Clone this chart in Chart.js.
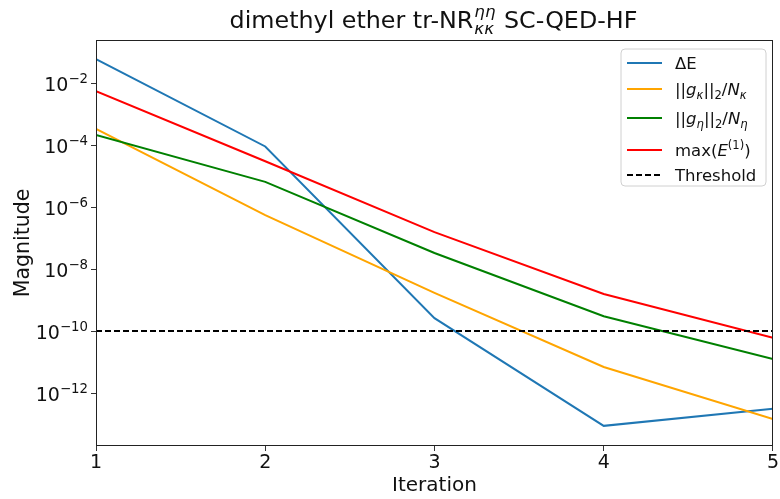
<!DOCTYPE html>
<html>
<head>
<meta charset="utf-8">
<script src="https://cdn.jsdelivr.net/npm/chart.js@4.4.0/dist/chart.umd.min.js"></script>
<style>
html,body{margin:0;padding:0;background:#fff;}
#wrap{width:780px;height:499px;}
</style>
</head>
<body>
<div id="wrap"><canvas id="c" width="780" height="499"></canvas></div>
<script>
// ---- data ----
const iterations = [1, 2, 3, 4, 5];
const deltaE     = [5.9e-2, 9.0e-5, 2.6e-10, 8.7e-14, 3.1e-13];
const gradKappa  = [3.3e-4, 5.5e-7, 1.7e-9, 6.9e-12, 1.45e-13];
const gradEta    = [2.1e-4, 6.5e-6, 3.3e-8, 3.0e-10, 1.25e-11];
const maxE1      = [5.5e-3, 3.0e-5, 1.55e-7, 1.56e-9, 6.1e-11];
const threshold  = 1e-10;
const yTickExponents = [-12, -10, -8, -6, -4, -2];
const xTicks = [1, 2, 3, 4, 5];

const FONT = '"DejaVu Sans", "Liberation Sans", sans-serif';
const TXT = '#111';

function pts(arr){ return iterations.map((x,i)=>({x:x, y:arr[i]})); }

// ---- rich text helper ----
function fontFor(seg, size){
  const sz = (seg.s && seg.s!=='b') || seg.stack ? size*0.7 : size;
  return (seg.it?'italic ':'') + sz.toFixed(2) + 'px ' + FONT;
}
function segWidth(ctx, seg, size){
  if (seg.stack){
    ctx.font = fontFor({it:true, stack:true}, size);
    return Math.max(ctx.measureText(seg.stack[0]).width, ctx.measureText(seg.stack[1]).width) + 0.08*size;
  }
  ctx.font = fontFor(seg, size);
  return ctx.measureText(seg.t).width;
}
function drawRich(ctx, segs, x, y, size, align){
  let total = 0;
  segs.forEach(s=>{ total += segWidth(ctx, s, size); });
  let cx = align==='center' ? x - total/2 : align==='right' ? x - total : x;
  ctx.save();
  ctx.textAlign = 'left';
  ctx.textBaseline = 'alphabetic';
  ctx.fillStyle = TXT;
  segs.forEach(s=>{
    const w = segWidth(ctx, s, size);
    if (s.stack){
      ctx.font = fontFor({it:true, stack:true}, size);
      ctx.fillText(s.stack[0], cx + 0.04*size, y - 0.45*size);
      ctx.fillText(s.stack[1], cx + 0.04*size, y + 0.25*size);
    } else {
      ctx.font = fontFor(s, size);
      const dy = s.s==='sup' ? -0.42*size : s.s==='sub' ? 0.22*size : 0;
      ctx.fillText(s.t, cx, y + dy);
    }
    cx += w;
  });
  ctx.restore();
}

// ---- legend definition ----
const legendItems = [
  {color:'#1f77b4', dash:[], y:63, segs:[{t:'ΔE'}]},
  {color:'#FFA500', dash:[], y:89, segs:[{t:'||'},{t:'g',it:true},{t:'κ',it:true,s:'sub'},{t:'||'},{t:'2',s:'sub'},{t:'/'},{t:'N',it:true},{t:'κ',it:true,s:'sub'}]},
  {color:'#008000', dash:[], y:118, segs:[{t:'||'},{t:'g',it:true},{t:'η',it:true,s:'sub'},{t:'||'},{t:'2',s:'sub'},{t:'/'},{t:'N',it:true},{t:'η',it:true,s:'sub'}]},
  {color:'#FF0000', dash:[], y:150, segs:[{t:'max('},{t:'E',it:true},{t:'(1)',s:'sup'},{t:')'}]},
  {color:'#000000', dash:[6,3], y:175, segs:[{t:'Threshold'}]}
];

const decor = {
  id:'decor',
  afterDraw(chart){
    const ctx = chart.ctx, a = chart.chartArea;
    const ys = chart.scales.y;
    // frame
    ctx.save();
    ctx.strokeStyle = '#222';
    ctx.lineWidth = 1;
    ctx.strokeRect(Math.round(a.left)+0.5, Math.round(a.top)+0.5, Math.round(a.right-a.left)-1, Math.round(a.bottom-a.top)-1);
    ctx.restore();
    // y tick labels
    ys.ticks.forEach(t=>{
      const py = ys.getPixelForValue(t.value);
      const e = Math.round(Math.log10(t.value));
      drawRich(ctx, [{t:'10'},{t:'\u2212'+Math.abs(e), s:'sup'}], 88, py+8, 19, 'right');
    });
    // title
    drawRich(ctx, [{t:'dimethyl ether tr-NR'},{stack:['ηη','κκ']},{t:' SC-QED-HF'}], 433.5, 28, 23.8, 'center');
    // axis titles
    drawRich(ctx, [{t:'Iteration'}], (a.left+a.right)/2, 491, 20, 'center');
    ctx.save();
    ctx.translate(29, (a.top+a.bottom)/2);
    ctx.rotate(-Math.PI/2);
    drawRich(ctx, [{t:'Magnitude'}], 0, 0, 20.5, 'center');
    ctx.restore();
    // legend
    ctx.save();
    const bx=621, by=49, bw=145, bh=137, r=4;
    ctx.beginPath();
    ctx.moveTo(bx+r,by); ctx.lineTo(bx+bw-r,by); ctx.arcTo(bx+bw,by,bx+bw,by+r,r);
    ctx.lineTo(bx+bw,by+bh-r); ctx.arcTo(bx+bw,by+bh,bx+bw-r,by+bh,r);
    ctx.lineTo(bx+r,by+bh); ctx.arcTo(bx,by+bh,bx,by+bh-r,r);
    ctx.lineTo(bx,by+r); ctx.arcTo(bx,by,bx+r,by,r); ctx.closePath();
    ctx.fillStyle='rgba(255,255,255,0.8)'; ctx.fill();
    ctx.strokeStyle='#d0d0d0'; ctx.lineWidth=1; ctx.stroke();
    legendItems.forEach(it=>{
      ctx.beginPath();
      ctx.setLineDash(it.dash);
      ctx.strokeStyle = it.color; ctx.lineWidth = 2;
      ctx.moveTo(627, it.y); ctx.lineTo(662, it.y); ctx.stroke();
      ctx.setLineDash([]);
      drawRich(ctx, it.segs, 675, it.y+6, 16.5, 'left');
    });
    ctx.restore();
  }
};

const mk = (label, data, color, order, dash) => ({
  label, data, borderColor: color, backgroundColor: color, borderWidth: 2,
  pointRadius: 0, tension: 0, fill: false, order, borderDash: dash || []
});

new Chart(document.getElementById('c'), {
  type: 'line',
  data: {
    datasets: [
      mk('ΔE', pts(deltaE), '#1f77b4', 5),
      mk('gk', pts(gradKappa), '#FFA500', 4),
      mk('geta', pts(gradEta), '#008000', 3),
      mk('maxE1', pts(maxE1), '#FF0000', 2),
      mk('Threshold', iterations.map(x=>({x:x, y:threshold})), '#000000', 1, [6,3])
    ]
  },
  options: {
    responsive: false,
    animation: false,
    events: [],
    layout: { padding: { top: 40, right: 6, left: 0, bottom: 0 } },
    plugins: { legend: { display: false }, title: { display: false }, tooltip: { enabled: false } },
    scales: {
      x: {
        type: 'linear', min: 1, max: 5,
        afterBuildTicks: s => { s.ticks = xTicks.map(v=>({value:v})); },
        afterFit: s => { s.height = 53; },
        ticks: { font: { family: FONT, size: 19 }, color: TXT, padding: 1, callback: v => String(v), maxRotation: 0 },
        grid: { display: true, drawOnChartArea: false, drawTicks: true, tickLength: 5, color: '#333' },
        border: { display: false }
      },
      y: {
        type: 'logarithmic', min: Math.pow(10, -13.71), max: Math.pow(10, -0.61),
        afterBuildTicks: s => { s.ticks = yTickExponents.map(e=>({value:Math.pow(10,e)})); },
        afterFit: s => { s.width = 96; },
        ticks: { display: false },
        grid: { display: true, drawOnChartArea: false, drawTicks: true, tickLength: 5, color: '#333' },
        border: { display: false }
      }
    }
  },
  plugins: [decor]
});
</script>
</body>
</html>
